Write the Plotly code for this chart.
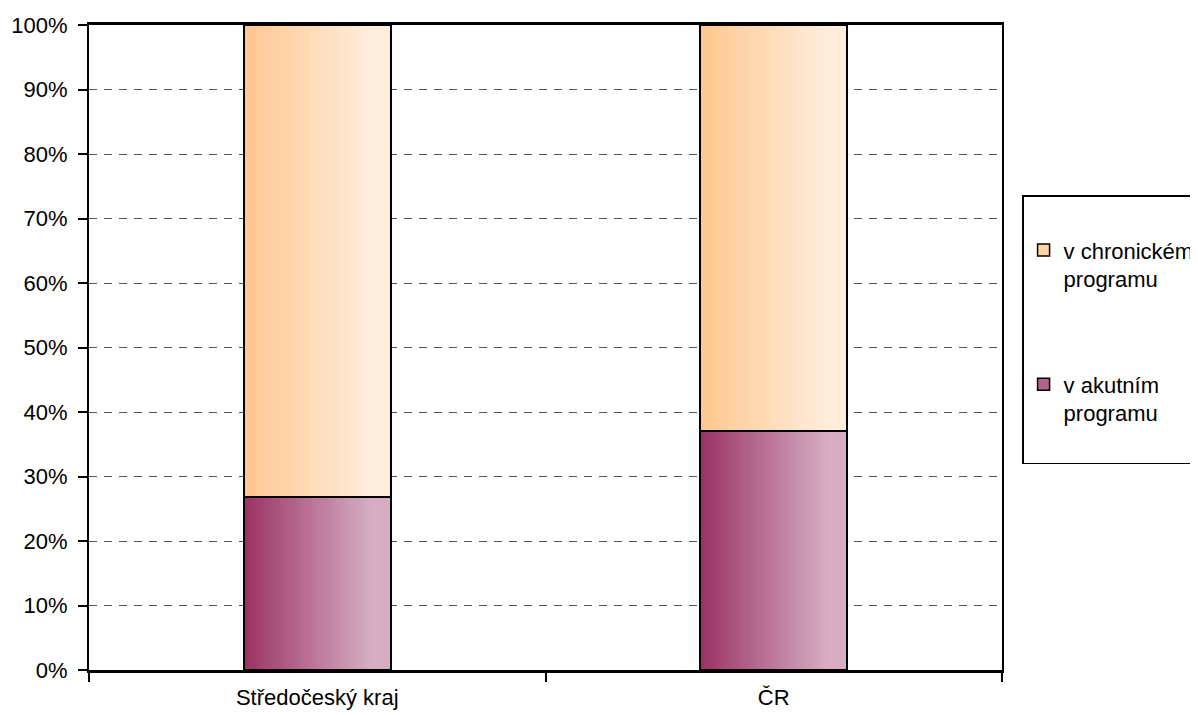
import plotly.graph_objects as go

# ---- data ----
categories = ["Středočeský kraj", "ČR"]
acute_pct = [26.8, 37.1]        # v akutním programu
chronic_pct = [73.2, 62.9]      # v chronickém programu
y_tick_values = [0, 10, 20, 30, 40, 50, 60, 70, 80, 90, 100]
y_tick_labels = [f"{v}%" for v in y_tick_values]
name_acute = "v akutním<br>programu<br> "
name_chronic = "v chronickém<br>programu"

# ---- styling ----
FONT = "Liberation Sans, Arial, sans-serif"
BAR_W = 0.322
N_STRIPS = 36
ACUTE_L, ACUTE_R = (155, 52, 101), (214, 173, 194)
CHRON_L, CHRON_R = (255, 199, 145), (255, 237, 219)


def mix(c1, c2, t):
    return "rgb({},{},{})".format(*[round(a + (b - a) * t) for a, b in zip(c1, c2)])


fig = go.Figure()

# gradient fill built from narrow bar strips
sw = BAR_W / N_STRIPS
for i in range(N_STRIPS):
    t = min(1.0, i / (N_STRIPS * 0.85))
    off = -BAR_W / 2 + i * sw
    fig.add_trace(go.Bar(x=categories, y=acute_pct, base=[0, 0],
                         offset=off, width=sw * 1.15,
                         marker=dict(color=mix(ACUTE_L, ACUTE_R, t), line=dict(width=0)),
                         showlegend=False, hoverinfo="skip"))
    fig.add_trace(go.Bar(x=categories, y=chronic_pct, base=acute_pct,
                         offset=off, width=sw * 1.15,
                         marker=dict(color=mix(CHRON_L, CHRON_R, t), line=dict(width=0)),
                         showlegend=False, hoverinfo="skip"))

# outlines
fig.add_trace(go.Bar(x=categories, y=acute_pct, base=[0, 0], offset=-BAR_W / 2, width=BAR_W,
                     marker=dict(color="rgba(0,0,0,0)", line=dict(color="black", width=2)),
                     showlegend=False, name=name_acute))
fig.add_trace(go.Bar(x=categories, y=chronic_pct, base=acute_pct, offset=-BAR_W / 2, width=BAR_W,
                     marker=dict(color="rgba(0,0,0,0)", line=dict(color="black", width=2)),
                     showlegend=False, name=name_chronic))

# legend entries
fig.add_trace(go.Bar(x=categories, y=[None, None], name=name_chronic, legendrank=1,
                     legendgroup="chron",
                     marker=dict(color=mix(CHRON_L, CHRON_R, 0.3), line=dict(color="black", width=1.5))))
fig.add_trace(go.Bar(x=categories, y=[None, None], name=name_acute, legendrank=2,
                     legendgroup="acute",
                     marker=dict(color=mix(ACUTE_L, ACUTE_R, 0.4), line=dict(color="black", width=1.5))))

fig.update_layout(
    width=1198, height=715,
    margin=dict(l=81, r=204, t=17, b=53, autoexpand=False),
    paper_bgcolor="white", plot_bgcolor="white",
    barmode="overlay", bargap=0,
    font=dict(family=FONT, size=22, color="black"),
    hovermode=False,
    legend=dict(x=1.022, y=0.736, xanchor="left", yanchor="top",
                bordercolor="black", borderwidth=1.5, bgcolor="white",
                font=dict(size=22), tracegroupgap=74, valign="top",
                title=dict(text=" ", font=dict(size=25)),
                traceorder="grouped", itemwidth=30),
)
fig.update_xaxes(range=[-0.5, 1.5], showline=True, linecolor="black", linewidth=2.5,
                 mirror=True, ticks="outside", tickson="boundaries", ticklen=9,
                 tickwidth=2, tickcolor="black", showgrid=False, fixedrange=True,
                 automargin=False, ticklabelstandoff=6)
fig.update_yaxes(range=[0, 100], tickvals=y_tick_values, ticktext=y_tick_labels,
                 showline=True, linecolor="black", linewidth=2, mirror=True,
                 ticks="outside", ticklen=9, tickwidth=2, tickcolor="black",
                 showgrid=True, gridcolor="#555555", gridwidth=1, griddash="8px,7px",
                 zeroline=False, fixedrange=True, automargin=False, ticklabelstandoff=6)

fig.write_html("out.html")
